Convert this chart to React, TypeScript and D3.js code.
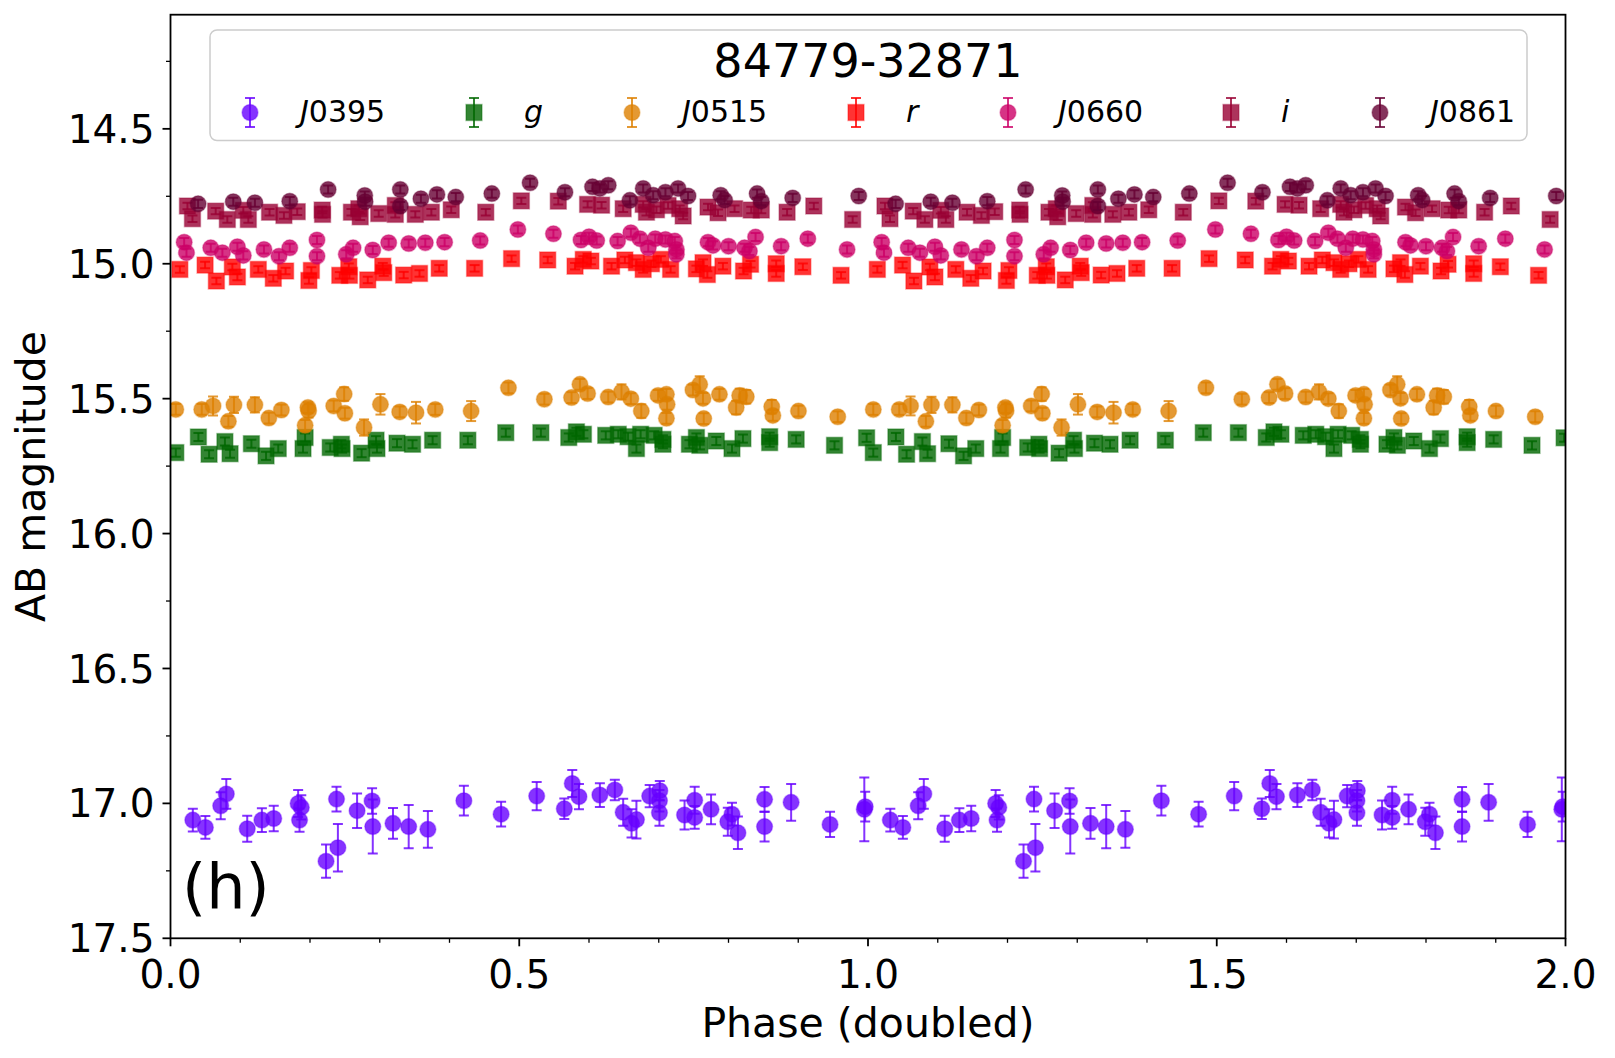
import React from "react";
import * as d3 from "d3";

// light curve of 84779-32871, phases folded in [0,1) and drawn twice (doubled)
const TITLE = "84779-32871";
const PANEL = "(h)";

// [phase, mag, err]
const J0395 = [
  [0.032, 17.062, 0.042], [0.05, 17.089, 0.042], [0.072, 17.009, 0.05], [0.08, 16.965, 0.055],
  [0.11, 17.094, 0.048], [0.131, 17.062, 0.044], [0.148, 17.056, 0.047], [0.183, 17.0, 0.05],
  [0.1875, 17.015, 0.045], [0.185, 17.062, 0.043], [0.223, 17.214, 0.062], [0.24, 17.164, 0.088],
  [0.238, 16.984, 0.046], [0.2675, 17.027, 0.064], [0.289, 16.991, 0.047], [0.29, 17.086, 0.1],
  [0.319, 17.074, 0.057], [0.3415, 17.086, 0.08], [0.369, 17.096, 0.068], [0.4206, 16.99, 0.055],
  [0.474, 17.04, 0.046], [0.525, 16.973, 0.052], [0.5646, 17.02, 0.038], [0.576, 16.926, 0.05],
  [0.5856, 16.975, 0.047], [0.6156, 16.969, 0.044], [0.637, 16.95, 0.038], [0.649, 17.033, 0.05],
  [0.661, 17.074, 0.052], [0.668, 17.06, 0.07], [0.687, 16.973, 0.041], [0.7015, 16.953, 0.036],
  [0.701, 16.99, 0.04], [0.701, 17.035, 0.048], [0.737, 17.043, 0.054], [0.7515, 16.988, 0.05],
  [0.7515, 17.052, 0.042], [0.775, 17.022, 0.055], [0.799, 17.068, 0.052], [0.805, 17.04, 0.042],
  [0.8135, 17.109, 0.06], [0.8517, 16.985, 0.046], [0.8517, 17.086, 0.055], [0.8898, 16.996, 0.068],
  [0.9456, 17.078, 0.047], [0.9947, 17.022, 0.118], [0.996, 17.012, 0.055],
];

const gBand = [
  [0.0076, 15.7], [0.04, 15.642], [0.0553, 15.706], [0.078, 15.659], [0.0854, 15.704], [0.116, 15.667],
  [0.137, 15.712], [0.1545, 15.685], [0.193, 15.644], [0.19, 15.685], [0.229, 15.681], [0.245, 15.669],
  [0.246, 15.685], [0.274, 15.702], [0.2947, 15.654], [0.296, 15.685], [0.3247, 15.665], [0.347, 15.669],
  [0.3758, 15.654], [0.4263, 15.654], [0.4807, 15.626], [0.531, 15.626], [0.571, 15.644], [0.582, 15.623],
  [0.592, 15.632], [0.624, 15.636], [0.642, 15.632], [0.656, 15.641], [0.668, 15.685], [0.674, 15.632],
  [0.6934, 15.636], [0.706, 15.669], [0.706, 15.651], [0.744, 15.669], [0.754, 15.644], [0.759, 15.673],
  [0.7825, 15.657], [0.805, 15.685], [0.8207, 15.648], [0.859, 15.641], [0.859, 15.663], [0.897, 15.651],
  [0.952, 15.673], [0.998, 15.645],
];

const J0515 = [
  [0.0076, 15.54, 0.02], [0.0448, 15.54, 0.02], [0.061, 15.527, 0.035], [0.083, 15.584, 0.02],
  [0.091, 15.523, 0.03], [0.121, 15.523, 0.028], [0.141, 15.572, 0.02], [0.159, 15.542, 0.02],
  [0.197, 15.533, 0.02], [0.198, 15.545, 0.025], [0.193, 15.599, 0.02], [0.234, 15.527, 0.02],
  [0.249, 15.483, 0.025], [0.25, 15.554, 0.02], [0.2775, 15.607, 0.03], [0.301, 15.521, 0.038],
  [0.3286, 15.549, 0.02], [0.352, 15.552, 0.04], [0.3796, 15.54, 0.02], [0.431, 15.546, 0.037],
  [0.4845, 15.46, 0.02], [0.536, 15.502, 0.02], [0.575, 15.496, 0.02], [0.587, 15.447, 0.02],
  [0.598, 15.481, 0.02], [0.6276, 15.494, 0.02], [0.6466, 15.475, 0.028], [0.66, 15.5, 0.02],
  [0.675, 15.546, 0.025], [0.699, 15.488, 0.02], [0.711, 15.484, 0.02], [0.712, 15.521, 0.02],
  [0.711, 15.573, 0.02], [0.749, 15.468, 0.02], [0.7587, 15.447, 0.03], [0.7635, 15.499, 0.02],
  [0.7645, 15.574, 0.02], [0.787, 15.484, 0.02], [0.811, 15.533, 0.025], [0.816, 15.488, 0.025],
  [0.8255, 15.493, 0.025], [0.862, 15.53, 0.025], [0.8636, 15.562, 0.02], [0.9003, 15.546, 0.02],
  [0.9566, 15.567, 0.02],
];

const rBand = [
  [0.0134, 15.021], [0.0496, 15.005], [0.0658, 15.064], [0.0887, 15.012], [0.0959, 15.049], [0.1259, 15.021],
  [0.1474, 15.054], [0.165, 15.027], [0.1984, 15.062], [0.202, 15.025], [0.2427, 15.043], [0.2556, 15.011],
  [0.2565, 15.043], [0.2828, 15.06], [0.3043, 15.009], [0.3057, 15.033], [0.3343, 15.042], [0.357, 15.036],
  [0.3853, 15.017], [0.436, 15.017], [0.489, 14.981], [0.5408, 14.986], [0.58, 15.009], [0.5918, 14.984],
  [0.6027, 14.99], [0.6323, 15.009], [0.6514, 14.986], [0.668, 14.996], [0.6777, 15.021], [0.6896, 15.0],
  [0.703, 14.984], [0.717, 15.021], [0.754, 15.019], [0.7635, 14.996], [0.7697, 15.04], [0.792, 15.009],
  [0.8216, 15.027], [0.8316, 15.002], [0.8684, 15.0], [0.8684, 15.036], [0.9066, 15.011], [0.9614, 15.043],
];

const J0660 = [
  [0.0196, 14.92], [0.0229, 14.959], [0.0577, 14.941], [0.0744, 14.959], [0.0959, 14.937], [0.1044, 14.969],
  [0.134, 14.947], [0.1555, 14.972], [0.171, 14.941], [0.21, 14.912], [0.21, 14.972], [0.252, 14.965],
  [0.2618, 14.941], [0.29, 14.949], [0.3128, 14.922], [0.3415, 14.925], [0.3653, 14.922], [0.393, 14.92],
  [0.444, 14.914], [0.498, 14.873], [0.549, 14.889], [0.5885, 14.912], [0.6, 14.9], [0.611, 14.914],
  [0.641, 14.916], [0.66, 14.885], [0.673, 14.907], [0.685, 14.941], [0.695, 14.907], [0.7096, 14.91],
  [0.723, 14.916], [0.7253, 14.947], [0.7253, 14.965], [0.7706, 14.92], [0.7778, 14.932], [0.8, 14.935],
  [0.823, 14.941], [0.83, 14.953], [0.8388, 14.901], [0.8755, 14.935], [0.9137, 14.907], [0.97, 14.947],
];

const iBand = [
  [0.0243, 14.786], [0.0315, 14.833], [0.0648, 14.805], [0.0815, 14.836], [0.1044, 14.802], [0.1116, 14.836],
  [0.142, 14.809], [0.1626, 14.821], [0.1817, 14.807], [0.2175, 14.801], [0.218, 14.817], [0.2594, 14.809],
  [0.27, 14.796], [0.272, 14.826], [0.2985, 14.814], [0.3223, 14.784], [0.3223, 14.817], [0.351, 14.817],
  [0.374, 14.809], [0.4025, 14.8], [0.452, 14.809], [0.503, 14.767], [0.556, 14.768], [0.598, 14.78],
  [0.618, 14.783], [0.649, 14.796], [0.6777, 14.78], [0.6824, 14.809], [0.6967, 14.8], [0.7134, 14.784],
  [0.73, 14.796], [0.735, 14.823], [0.7706, 14.79], [0.785, 14.811], [0.8087, 14.796], [0.8326, 14.801],
  [0.847, 14.801], [0.884, 14.809], [0.9223, 14.786], [0.978, 14.836],
];

const J0861 = [
  [0.0396, 14.778], [0.09, 14.77], [0.121, 14.774], [0.171, 14.768], [0.226, 14.725], [0.2785, 14.747],
  [0.279, 14.77], [0.3295, 14.725], [0.3295, 14.786], [0.359, 14.759], [0.382, 14.743], [0.409, 14.753],
  [0.4607, 14.74], [0.5155, 14.7], [0.5655, 14.735], [0.605, 14.715], [0.6156, 14.721], [0.6276, 14.709],
  [0.6586, 14.765], [0.6777, 14.721], [0.692, 14.746], [0.7096, 14.735], [0.7277, 14.721], [0.742, 14.749],
  [0.7888, 14.746], [0.7945, 14.764], [0.841, 14.74], [0.847, 14.768], [0.892, 14.756], [0.9867, 14.749],
];

const BANDS = [
  { name: "J0395", color: "#6600FF", shape: "circle", data: J0395, err: 0.04 },
  { name: "g", color: "#006600", shape: "square", data: gBand, err: 0.015 },
  { name: "J0515", color: "#DD8000", shape: "circle", data: J0515, err: 0.02 },
  { name: "r", color: "#FF0000", shape: "square", data: rBand, err: 0.012 },
  { name: "J0660", color: "#CC0066", shape: "circle", data: J0660, err: 0.015 },
  { name: "i", color: "#990033", shape: "square", data: iBand, err: 0.012 },
  { name: "J0861", color: "#660033", shape: "circle", data: J0861, err: 0.015 },
];

const Y_MAJOR = [14.5, 15.0, 15.5, 16.0, 16.5, 17.0, 17.5];
const X_MAJOR = [0, 0.5, 1.0, 1.5, 2.0];

const W = 1615;
const H = 1058;
const FONT = "DejaVu Sans";
const ALPHA = 0.8;

function Marker({ shape, color, cx, cy }) {
  if (shape === "square") {
    return (
      <rect x={cx - 8} y={cy - 8} width={16} height={16}
        fill={color} fillOpacity={ALPHA} stroke={color} strokeOpacity={0.35} strokeWidth={1.5} />
    );
  }
  return (
    <circle cx={cx} cy={cy} r={8}
      fill={color} fillOpacity={ALPHA} stroke={color} strokeOpacity={0.35} strokeWidth={1.5} />
  );
}

function ErrBar({ color, x, y0, y1 }) {
  return (
    <g stroke={color} strokeOpacity={ALPHA} strokeWidth={2}>
      <line x1={x} x2={x} y1={y0} y2={y1} />
      <line x1={x - 5} x2={x + 5} y1={y0} y2={y0} />
      <line x1={x - 5} x2={x + 5} y1={y1} y2={y1} />
    </g>
  );
}

export default function App() {
  const left = 170.5, right = 1565.5, top = 14.7, bottom = 938.3;
  const x = d3.scaleLinear().domain([0, 2]).range([left, right]);
  const y = d3.scaleLinear().domain([14.077, 17.5]).range([top, bottom]);

  const yMinor = d3.range(14.25, 17.5, 0.25).filter((v) => Math.abs(v * 2 - Math.round(v * 2)) > 1e-6);
  const xMinor = d3.range(0.1, 2.0, 0.1).filter((v) => Math.abs(v * 2 - Math.round(v * 2)) > 1e-6);
  const fmt = d3.format(".1f");

  // legend item anchor positions (layout only)
  const legendX = [250, 474, 632, 856, 1008, 1231, 1380];

  return (
    <svg width={W} height={H} style={{ position: "absolute", left: 0, top: 0, background: "#fff" }}
      fontFamily={FONT}>
      <defs>
        <clipPath id="plot-clip">
          <rect x={left} y={top} width={right - left} height={bottom - top} />
        </clipPath>
      </defs>
      <rect x={0} y={0} width={W} height={H} fill="#fff" />

      <g clipPath="url(#plot-clip)">
        {BANDS.map((b) => (
          <g key={b.name}>
            {b.data.flatMap((d, i) =>
              [0, 1].map((k) => {
                const px = x(d[0] + k);
                const e = d[2] ?? b.err;
                return (
                  <g key={`${i}-${k}`}>
                    <ErrBar color={b.color} x={px} y0={y(d[1] - e)} y1={y(d[1] + e)} />
                    <Marker shape={b.shape} color={b.color} cx={px} cy={y(d[1])} />
                  </g>
                );
              })
            )}
          </g>
        ))}
      </g>

      {/* frame */}
      <rect x={left} y={top} width={right - left} height={bottom - top} fill="none" stroke="#000" strokeWidth={1.8} />

      {/* y axis */}
      {Y_MAJOR.map((v) => (
        <g key={`y${v}`}>
          <line x1={left - 8} x2={left} y1={y(v)} y2={y(v)} stroke="#000" strokeWidth={1.8} />
          <text x={left - 16} y={y(v)} dy="0.36em" textAnchor="end" fontSize={39}>{fmt(v)}</text>
        </g>
      ))}
      {yMinor.map((v) => (
        <line key={`ym${v}`} x1={left - 4.5} x2={left} y1={y(v)} y2={y(v)} stroke="#000" strokeWidth={1.3} />
      ))}
      <text transform={`translate(45,${(top + bottom) / 2}) rotate(-90)`} textAnchor="middle" fontSize={41}>
        AB magnitude
      </text>

      {/* x axis */}
      {X_MAJOR.map((v) => (
        <g key={`x${v}`}>
          <line x1={x(v)} x2={x(v)} y1={bottom} y2={bottom + 8} stroke="#000" strokeWidth={1.8} />
          <text x={x(v)} y={988} textAnchor="middle" fontSize={39}>{fmt(v)}</text>
        </g>
      ))}
      {xMinor.map((v) => (
        <line key={`xm${v}`} x1={x(v)} x2={x(v)} y1={bottom} y2={bottom + 4.5} stroke="#000" strokeWidth={1.3} />
      ))}
      <text x={(left + right) / 2} y={1037} textAnchor="middle" fontSize={41}>Phase (doubled)</text>

      {/* panel tag */}
      <text x={182} y={908} fontSize={62}>{PANEL}</text>

      {/* legend */}
      <rect x={210} y={30} width={1317} height={110.5} rx={7} fill="#fff" fillOpacity={0.8}
        stroke="#cccccc" strokeWidth={1.5} />
      <text x={868} y={77} textAnchor="middle" fontSize={46}>{TITLE}</text>
      {BANDS.map((b, i) => {
        const mx = legendX[i];
        const isJ = b.name.startsWith("J");
        return (
          <g key={`lg${b.name}`}>
            <ErrBar color={b.color} x={mx} y0={98} y1={127} />
            <Marker shape={b.shape} color={b.color} cx={mx} cy={112.5} />
            <text x={mx + 50} y={122} fontSize={30}>
              {isJ ? (
                <>
                  <tspan fontStyle="italic">J</tspan>
                  {b.name.slice(1)}
                </>
              ) : (
                <tspan fontStyle="italic">{b.name}</tspan>
              )}
            </text>
          </g>
        );
      })}
    </svg>
  );
}
